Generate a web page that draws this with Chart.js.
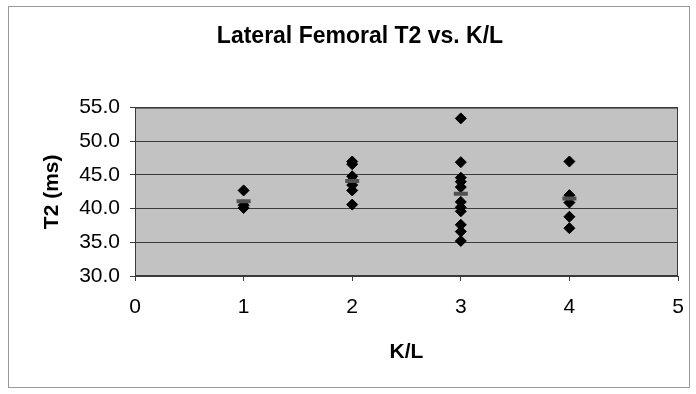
<!DOCTYPE html>
<html>
<head>
<meta charset="utf-8">
<script src="https://cdn.jsdelivr.net/npm/chart.js@4"></script>
<style>
  body { margin: 0; background: #fff; }
  #box {
    position: absolute; left: 8px; top: 6px;
    width: 680px; height: 380px;
    border: 1px solid #9a9a9a;
  }
</style>
</head>
<body>
<div id="box"><canvas id="chart" width="680" height="380"></canvas></div>
<script>
// individual measurements (K/L grade, T2 in ms)
const klGrade = [1, 1, 1,
                 2, 2, 2, 2, 2, 2, 2,
                 3, 3, 3, 3, 3, 3, 3, 3, 3, 3, 3,
                 4, 4, 4, 4, 4];
const t2Values = [42.7, 40.5, 40.1,
                  47.0, 46.6, 44.8, 44.2, 43.5, 42.7, 40.6,
                  53.4, 46.9, 44.6, 44.0, 43.2, 41.0, 40.2, 39.6, 37.6, 36.6, 35.2,
                  47.0, 42.0, 40.9, 38.8, 37.1];

// group averages (grey dashes)
const meanGrade = [1, 2, 3, 4];
const meanT2 = [41.1, 44.1, 42.2, 41.5];

const xTicks = [0, 1, 2, 3, 4, 5];
const yTicks = [30, 35, 40, 45, 50, 55];

const plotBg = {
  id: 'plotBg',
  beforeDraw(chart) {
    const { ctx, chartArea: a } = chart;
    ctx.save();
    ctx.fillStyle = '#c2c2c2';
    ctx.fillRect(a.left, a.top, a.width, a.height);
    ctx.restore();
  },
  afterDatasetsDraw(chart) {
    const { ctx, chartArea: a } = chart;
    ctx.save();
    ctx.strokeStyle = '#3a3a3a';
    ctx.lineWidth = 1;
    ctx.strokeRect(a.left + 0.5, a.top + 0.5, a.width - 1, a.height - 1);
    ctx.restore();
  }
};

const font = 'Arial, "Liberation Sans", sans-serif';

new Chart(document.getElementById('chart'), {
  type: 'scatter',
  data: {
    datasets: [
      {
        label: 'Mean',
        data: meanGrade.map((k, i) => ({ x: k, y: meanT2[i] })),
        pointStyle: 'line',
        pointRadius: 7,
        borderWidth: 4,
        borderColor: '#505050',
        backgroundColor: '#505050'
      },
      {
        label: 'T2',
        data: klGrade.map((k, i) => ({ x: k, y: t2Values[i] })),
        pointStyle: 'rectRot',
        pointRadius: 5.5,
        borderWidth: 1,
        borderColor: '#000',
        backgroundColor: '#000'
      }
    ]
  },
  options: {
    responsive: false,
    animation: false,
    layout: { padding: { left: 33, right: 11, top: 0, bottom: 0 } },
    plugins: {
      legend: { display: false },
      tooltip: { enabled: false },
      title: {
        display: true,
        text: 'Lateral Femoral T2 vs. K/L',
        color: '#000',
        font: { family: font, size: 23, weight: 'bold' },
        padding: { top: 16, bottom: 57 }
      }
    },
    scales: {
      x: {
        type: 'linear',
        min: 0,
        max: 5,
        afterBuildTicks: s => { s.ticks = xTicks.map(v => ({ value: v })); },
        afterFit: s => { s.height = 111; s.paddingLeft = 0; s.paddingRight = 0; },
        grid: { drawOnChartArea: false, color: '#3a3a3a', tickLength: 5 },
        border: { color: '#3a3a3a' },
        ticks: {
          color: '#000',
          padding: 14,
          maxRotation: 0,
          font: { family: font, size: 21 }
        },
        title: {
          display: true,
          text: 'K/L',
          color: '#000',
          font: { family: font, size: 21, weight: 'bold', lineHeight: 1 },
          padding: { top: 0, bottom: 24 }
        }
      },
      y: {
        min: 30,
        max: 55,
        afterBuildTicks: s => { s.ticks = yTicks.map(v => ({ value: v })); },
        afterFit: s => { s.width = 93; s.paddingTop = 0; s.paddingBottom = 0; },
        grid: { color: '#3a3a3a', tickLength: 5 },
        border: { color: '#3a3a3a' },
        ticks: {
          color: '#000',
          padding: 10,
          font: { family: font, size: 21 },
          callback: v => Number(v).toFixed(1)
        },
        title: {
          display: true,
          text: 'T2 (ms)',
          color: '#000',
          font: { family: font, size: 21, weight: 'bold', lineHeight: 1 },
          padding: { top: 0, bottom: 0 }
        }
      }
    }
  },
  plugins: [plotBg]
});
</script>
</body>
</html>
